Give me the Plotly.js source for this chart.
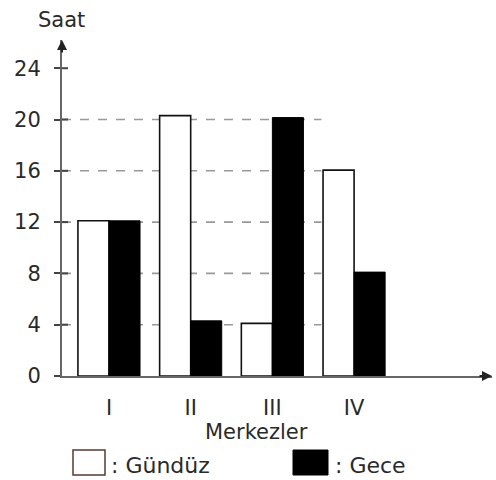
<!DOCTYPE html>
<html>
<head>
<meta charset="utf-8">
<script src="https://cdn.plot.ly/plotly-3.0.1.min.js"></script>
<style>html,body{margin:0;padding:0;background:#fff;}#chart{width:496px;height:480px;}</style>
</head>
<body>
<div id="chart"></div>
<script>
const categories = ["I", "II", "III", "IV"];
const gunduz = [12.1, 20.3, 4.1, 16.05];
const gece = [12.1, 4.3, 20.15, 8.1];
const yTicks = [0, 4, 8, 12, 16, 20, 24];
const gridValues = [4, 8, 12, 16, 20];

const font = {family: "DejaVu Sans, sans-serif", color: "#2a2a2a", size: 21};
const legendFont = {family: "DejaVu Sans, sans-serif", color: "#2a2a2a", size: 22};
const xRange = [-0.575, 4.688];
const yRange = [0, 26.2];

const traces = [
  {type: "bar", name: "Gündüz", x: categories, y: gunduz,
   marker: {color: "#ffffff", line: {color: "#111", width: 1.6}}},
  {type: "bar", name: "Gece", x: categories, y: gece,
   marker: {color: "#000000", line: {color: "#000", width: 1}}}
];

const px = v => (v - 62) / 430;
const py = v => (376 - v) / 336;

const shapes = gridValues.map(v => ({
  type: "line", xref: "x", yref: "y", layer: "below",
  x0: xRange[0], x1: 2.6, y0: v, y1: v,
  line: {color: "#999", width: 1.6, dash: "dash"}
}));
// inner half of the crossing tick marks
yTicks.slice(1).forEach(v => shapes.push({
  type: "line", xref: "paper", yref: "y", x0: 0, x1: px(68), y0: v, y1: v,
  line: {color: "#444", width: 2}
}));
// legend boxes
shapes.push({type: "rect", xref: "paper", yref: "paper", x0: px(73), x1: px(105),
  y0: py(475), y1: py(450), line: {color: "#5a3a30", width: 1.5}, fillcolor: "#fff"});
shapes.push({type: "rect", xref: "paper", yref: "paper", x0: px(293), x1: px(328),
  y0: py(475), y1: py(450), line: {color: "#000", width: 1}, fillcolor: "#000"});

const annotations = [
  {xref: "paper", yref: "paper", x: 0, y: 1, ax: 0, ay: 14, axref: "pixel", ayref: "pixel",
   showarrow: true, arrowhead: 2, arrowsize: 1, arrowwidth: 2, arrowcolor: "#222", text: ""},
  {xref: "paper", yref: "paper", x: 1, y: 0, ax: -14, ay: 0, axref: "pixel", ayref: "pixel",
   showarrow: true, arrowhead: 2, arrowsize: 1, arrowwidth: 2, arrowcolor: "#222", text: ""},
  {xref: "paper", yref: "paper", x: px(61), y: py(20), text: "Saat", showarrow: false,
   font: font, xanchor: "center", yanchor: "middle"},
  {xref: "paper", yref: "paper", x: px(256), y: py(432), text: "Merkezler", showarrow: false,
   font: font, xanchor: "center", yanchor: "middle"},
  {xref: "paper", yref: "paper", x: px(109), y: py(465), text: ": Gündüz", showarrow: false,
   font: legendFont, xanchor: "left", yanchor: "middle"},
  {xref: "paper", yref: "paper", x: px(333), y: py(465), text: ": Gece", showarrow: false,
   font: legendFont, xanchor: "left", yanchor: "middle"}
];

const layout = {
  width: 496, height: 480,
  margin: {l: 62, r: 4, t: 40, b: 104},
  paper_bgcolor: "#fff", plot_bgcolor: "#fff",
  showlegend: false,
  barmode: "group", bargap: 0.24, bargroupgap: 0,
  font: font,
  xaxis: {type: "category", range: xRange, showgrid: false, zeroline: false,
    showline: true, linecolor: "#666", linewidth: 2, ticks: "", tickfont: font,
    ticklabelstandoff: 12},
  yaxis: {range: yRange, tickvals: yTicks, ticktext: yTicks.map(String), showgrid: false,
    zeroline: false, showline: true, linecolor: "#666", linewidth: 2,
    ticks: "outside", ticklen: 6, tickcolor: "#444", tickwidth: 2, tickfont: font,
    ticklabelstandoff: 9},
  shapes: shapes,
  annotations: annotations
};

Plotly.newPlot("chart", traces, layout, {displayModeBar: false, staticPlot: true});
</script>
</body>
</html>
